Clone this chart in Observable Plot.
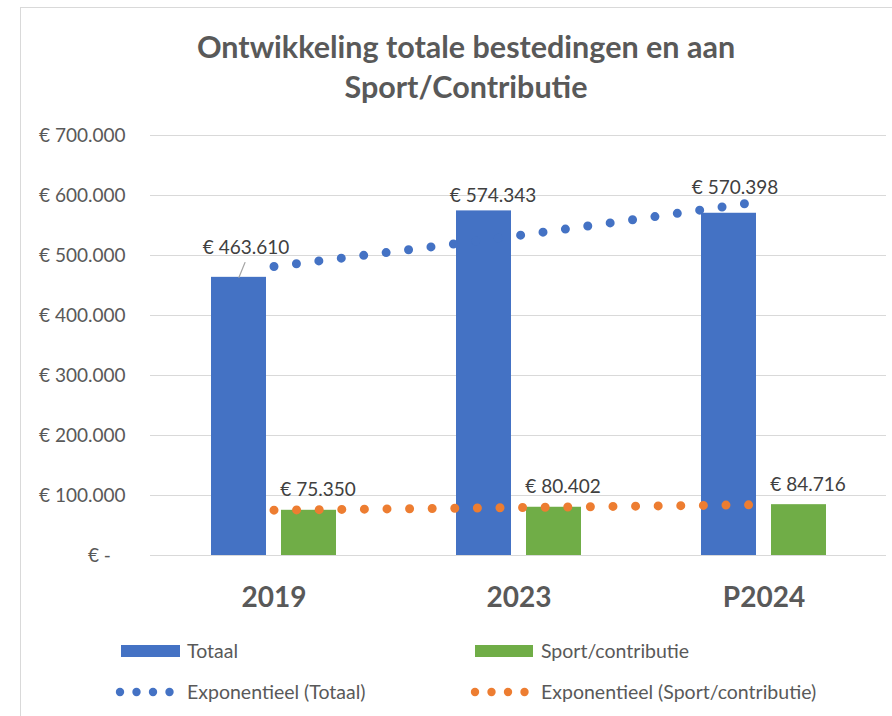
<!DOCTYPE html>
<html>
<head>
<meta charset="utf-8">
<script src="https://cdn.jsdelivr.net/npm/d3@7"></script>
<script src="https://cdn.jsdelivr.net/npm/@observablehq/plot@0.6"></script>
<style>
  html, body { margin: 0; padding: 0; background: #fff; }
  body { width: 892px; height: 716px; position: relative; overflow: hidden; font-family: Lato, "Noto Sans", sans-serif; }
  #frame { position: absolute; left: 20px; top: 7px; width: 900px; height: 740px; border: 1px solid #d9d9d9; box-sizing: border-box; }
  .title { position: absolute; left: 0; width: 932px; text-align: center; font-weight: bold; font-size: 30.5px; color: #595959; line-height: 1; }
  #chart { position: absolute; left: 0; top: 0; }
  .leg { position: absolute; font-size: 19.5px; color: #595959; line-height: 1; white-space: nowrap; }
  .sw { position: absolute; height: 12px; }
  svg.dots { position: absolute; left: 0; top: 0; }
</style>
</head>
<body>
<div id="frame"></div>
<div class="title" style="top:31px">Ontwikkeling totale bestedingen en aan</div>
<div class="title" style="top:71px">Sport/Contributie</div>
<div id="chart"></div>
<div class="sw" style="left:121px; top:645px; width:59px; background:#4472C4"></div>
<div class="leg" style="left:187px; top:641px">Totaal</div>
<div class="sw" style="left:475px; top:645px; width:58px; background:#70AD47"></div>
<div class="leg" style="left:541px; top:641px">Sport/contributie</div>
<div class="leg" style="left:187px; top:682px">Exponentieel (Totaal)</div>
<div class="leg" style="left:541px; top:682px">Exponentieel (Sport/contributie)</div>
<svg class="dots" width="892" height="716" style="pointer-events:none">
  <g fill="#4472C4">
    <circle cx="120" cy="692" r="4.2"/><circle cx="136.5" cy="692" r="4.2"/><circle cx="153" cy="692" r="4.2"/><circle cx="169.5" cy="692" r="4.2"/>
  </g>
  <g fill="#ED7D31">
    <circle cx="475" cy="692" r="4.2"/><circle cx="491.5" cy="692" r="4.2"/><circle cx="508" cy="692" r="4.2"/><circle cx="524.5" cy="692" r="4.2"/>
  </g>
</svg>
<script>
const categories = ["2019", "2023", "P2024"];
const totaal = [463610, 574343, 570398];
const sport = [75350, 80402, 84716];
// exponential trendline values at each category
const trendTotaal = [481700, 533500, 591000];
const trendSport = [75600, 80000, 84700];
const yTicks = [0, 100000, 200000, 300000, 400000, 500000, 600000, 700000];

const fmtNum = d3.format(",.0f");
const euro = v => "€ " + fmtNum(v).replace(/,/g, ".");
const tickFmt = v => v === 0 ? "€ -\u00a0\u00a0\u00a0" : euro(v);

const totRows = categories.map((c, i) => ({cat: c, value: totaal[i], i}));
const spRows = categories.map((c, i) => ({cat: c, value: sport[i], i}));
const trTot = categories.map((c, i) => ({cat: c, value: trendTotaal[i]}));
const trSp = categories.map((c, i) => ({cat: c, value: trendSport[i]}));

const labelStyle = {fontSize: 19, fill: "#404040", text: d => euro(d.value), x: "cat", y: "value"};

const chart = Plot.plot({
  width: 892,
  height: 630,
  marginLeft: 150,
  marginRight: 6,
  marginTop: 135,
  marginBottom: 75,
  style: {fontFamily: "Lato, 'Noto Sans', sans-serif", background: "transparent", overflow: "visible"},
  x: {domain: categories, padding: 0, label: null},
  y: {domain: [0, 700000], label: null},
  marks: [
    Plot.gridY(yTicks, {stroke: "#d9d9d9", strokeOpacity: 1, strokeWidth: 1.2}),
    Plot.axisY({ticks: yTicks, tickSize: 0, tickPadding: 25, tickFormat: tickFmt, fontSize: 19, fill: "#595959", label: null}),
    Plot.axisX({tickSize: 0, tickPadding: 32, fontSize: 28, fontWeight: "bold", fill: "#595959", label: null}),
    Plot.barY(totRows, {x: "cat", y: "value", fill: "#4472C4", dx: -35, insetLeft: 95, insetRight: 95}),
    Plot.barY(spRows, {x: "cat", y: "value", fill: "#70AD47", dx: 35, insetLeft: 95, insetRight: 95}),
    Plot.lineY(trTot, {x: "cat", y: "value", stroke: "#4472C4", strokeWidth: 9, strokeDasharray: "0 22.6", strokeLinecap: "round", curve: "natural"}),
    Plot.lineY(trSp, {x: "cat", y: "value", stroke: "#ED7D31", strokeWidth: 9, strokeDasharray: "0 22.6", strokeLinecap: "round", curve: "natural"}),
    // leader line for the moved first label
    Plot.vector(totRows.filter(d => d.i === 0), {x: "cat", y: "value", dx: -35, length: 16, rotate: 22, anchor: "start", stroke: "#a6a6a6", strokeWidth: 1.2,
      shape: {draw(ctx, l) { ctx.moveTo(0, 0); ctx.lineTo(0, -l); }}}),
    Plot.text(totRows.filter(d => d.i === 0), {...labelStyle, dx: -28, dy: -29}),
    Plot.text(totRows.filter(d => d.i === 1), {...labelStyle, dx: -26, dy: -15}),
    Plot.text(totRows.filter(d => d.i === 2), {...labelStyle, dx: -29, dy: -25}),
    Plot.text(spRows, {...labelStyle, dx: 44, dy: -20})
  ]
});
document.getElementById("chart").appendChild(chart);
</script>
</body>
</html>
